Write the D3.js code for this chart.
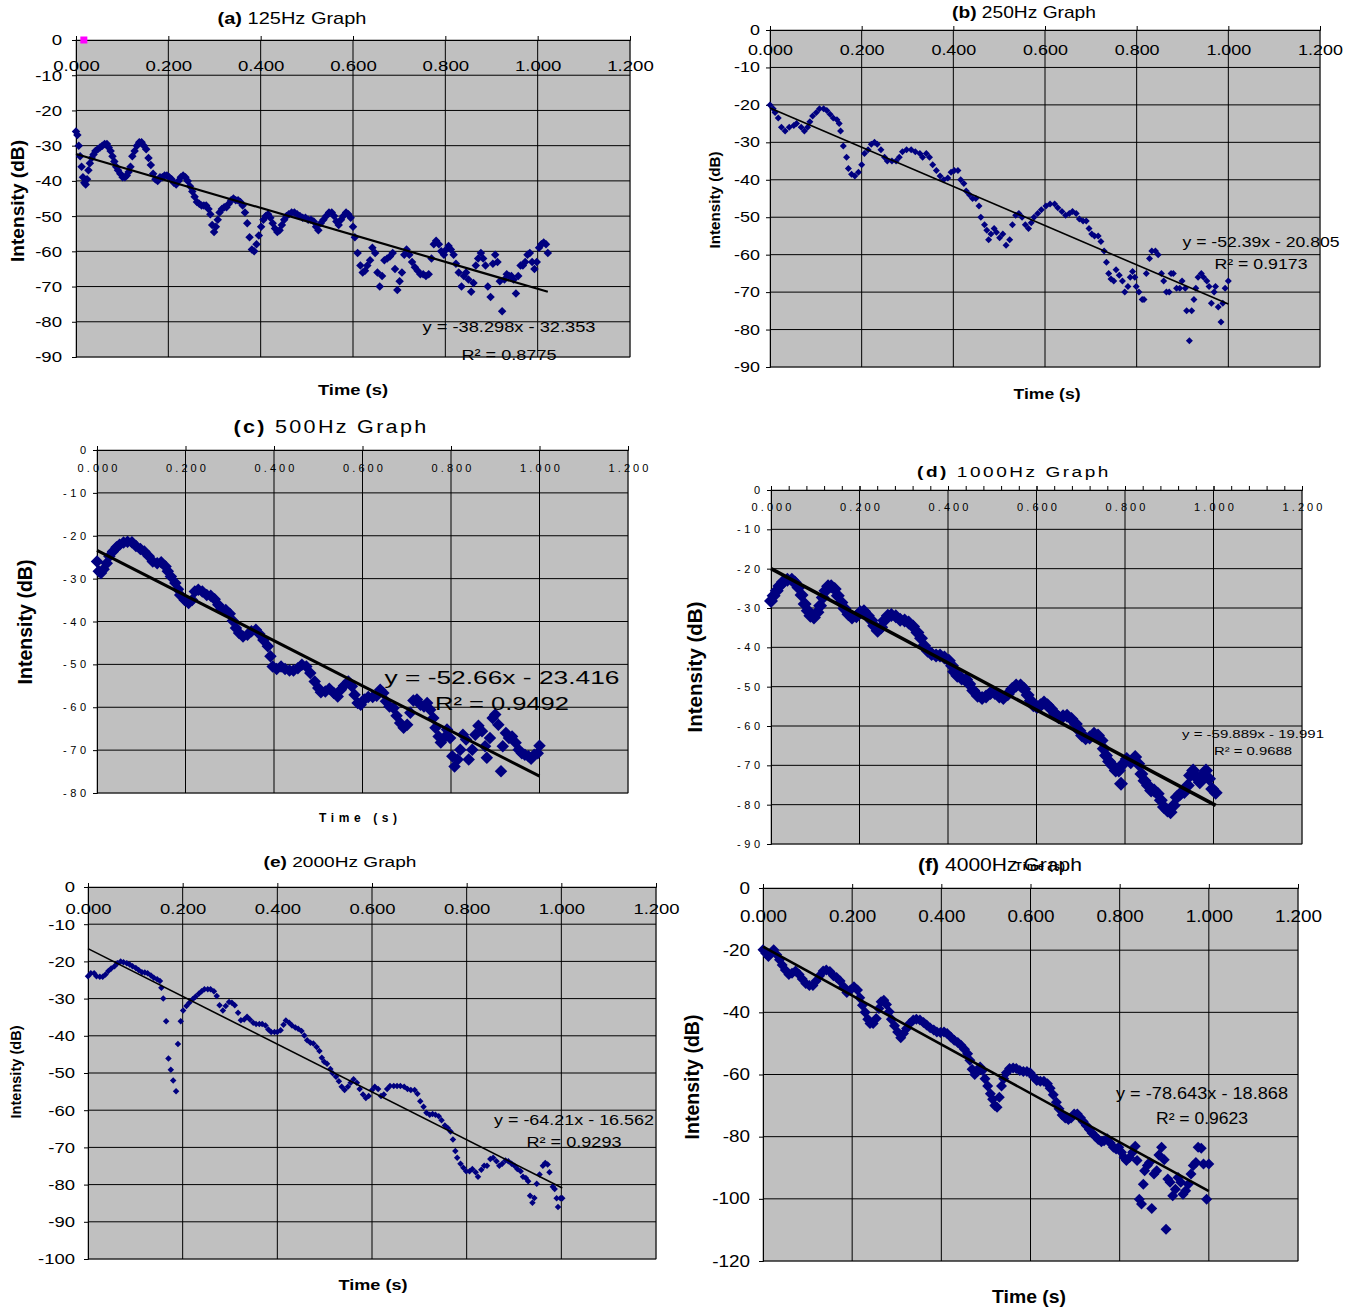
<!DOCTYPE html>
<html>
<head>
<meta charset="utf-8">
<script src="https://cdn.jsdelivr.net/npm/d3@7"></script>
<style>
body{margin:0;background:#fff;}
text{font-family:"Liberation Sans",Arial,sans-serif;fill:#000;}
</style>
</head>
<body>
<svg id="chart" width="1355" height="1311"></svg>
<script>
// readings, [time (s), intensity (dB)]
var hz125 = [[0.000,-26],[0.003,-27],[0.006,-30],[0.009,-33],[0.012,-36],[0.015,-39],[0.018,-40.5],[0.021,-41],[0.024,-39.5],[0.027,-37],[0.030,-35],[0.034,-33.5],[0.038,-32.5],[0.042,-31.5],[0.047,-31],[0.052,-30.5],[0.057,-30],[0.062,-29.5],[0.067,-29.5],[0.071,-30.5],[0.075,-31.5],[0.079,-33],[0.083,-34.5],[0.087,-36],[0.091,-37],[0.096,-38],[0.101,-39],[0.106,-39],[0.110,-38.5],[0.114,-37.5],[0.118,-36],[0.122,-33],[0.127,-31.5],[0.132,-30],[0.137,-29],[0.142,-29],[0.147,-30],[0.152,-31],[0.157,-33.5],[0.162,-35.5],[0.167,-38],[0.172,-39.5],[0.177,-40],[0.182,-39],[0.187,-39],[0.192,-38.5],[0.197,-38.5],[0.202,-39],[0.207,-39.5],[0.212,-40.5],[0.217,-41],[0.222,-40],[0.227,-39],[0.232,-38.5],[0.237,-39],[0.242,-40],[0.247,-41.5],[0.252,-43],[0.257,-44.5],[0.262,-46],[0.267,-46.5],[0.272,-47],[0.277,-47],[0.282,-47],[0.287,-48],[0.291,-49.5],[0.295,-52.5],[0.299,-54.5],[0.303,-53],[0.307,-51],[0.311,-49],[0.316,-48],[0.321,-47.5],[0.326,-47.5],[0.331,-46.5],[0.336,-45.5],[0.341,-45],[0.346,-45.5],[0.351,-45.5],[0.356,-46],[0.361,-47],[0.366,-49],[0.371,-52],[0.376,-56],[0.381,-59.5],[0.386,-60],[0.391,-58],[0.396,-55.5],[0.401,-53],[0.406,-51],[0.411,-50],[0.416,-49.5],[0.421,-50.5],[0.426,-52],[0.431,-53.5],[0.436,-54.5],[0.441,-54],[0.446,-52.5],[0.451,-51],[0.456,-50],[0.461,-49.5],[0.467,-49],[0.473,-49],[0.479,-49.5],[0.485,-50],[0.491,-50.5],[0.497,-50.5],[0.503,-51],[0.509,-51],[0.515,-51.5],[0.520,-53],[0.525,-54],[0.530,-52],[0.536,-51],[0.542,-50],[0.548,-49],[0.554,-49],[0.559,-50],[0.564,-51.5],[0.569,-52.5],[0.574,-51],[0.579,-50],[0.585,-49],[0.590,-49.5],[0.595,-50.5],[0.600,-53],[0.604,-56],[0.610,-60.5],[0.616,-64],[0.621,-66],[0.626,-65.5],[0.631,-64],[0.637,-62.5],[0.642,-59],[0.648,-60.5],[0.653,-66],[0.658,-70],[0.663,-67],[0.668,-62.5],[0.674,-62],[0.680,-61.5],[0.686,-60.5],[0.691,-65],[0.696,-71],[0.701,-68.5],[0.706,-66],[0.711,-61],[0.716,-59.5],[0.722,-61],[0.728,-63],[0.734,-64.5],[0.740,-65.5],[0.746,-66.5],[0.752,-66.5],[0.758,-67],[0.764,-66.5],[0.770,-62],[0.775,-58],[0.780,-57],[0.786,-58],[0.791,-60],[0.797,-61],[0.802,-59.5],[0.807,-58.5],[0.812,-59.5],[0.818,-61],[0.823,-63.5],[0.829,-66],[0.835,-70],[0.840,-67],[0.845,-66],[0.850,-68],[0.856,-71.5],[0.861,-69],[0.866,-64],[0.871,-62],[0.877,-60.5],[0.882,-62],[0.887,-64],[0.892,-70],[0.898,-73],[0.903,-63.5],[0.908,-61],[0.913,-63],[0.918,-68.5],[0.923,-77],[0.928,-68],[0.933,-66.5],[0.938,-67],[0.943,-67],[0.948,-68],[0.953,-72],[0.958,-67],[0.963,-64],[0.968,-64],[0.973,-63],[0.978,-61],[0.983,-60.5],[0.988,-63],[0.993,-65],[0.998,-63],[1.003,-59],[1.008,-58],[1.013,-57.5],[1.018,-58],[1.022,-60.5]];
var hz250 = [[0,-20],[0.007,-21],[0.011,-22],[0.018,-23.5],[0.025,-26],[0.033,-27],[0.042,-26],[0.052,-25.5],[0.058,-25],[0.068,-26],[0.075,-27],[0.082,-26],[0.087,-24.5],[0.093,-23],[0.101,-22],[0.108,-21],[0.117,-21],[0.124,-21.5],[0.131,-22.5],[0.138,-23.5],[0.146,-24],[0.151,-25],[0.154,-27],[0.160,-31],[0.167,-34],[0.171,-37],[0.178,-38.5],[0.185,-39],[0.193,-38],[0.200,-36],[0.206,-33],[0.214,-32],[0.221,-30.5],[0.228,-30],[0.234,-30.5],[0.242,-32],[0.250,-34],[0.256,-35],[0.266,-35],[0.275,-35],[0.282,-34],[0.289,-32.5],[0.298,-32],[0.308,-32],[0.317,-32.5],[0.327,-33],[0.333,-34],[0.341,-33],[0.348,-34],[0.355,-36],[0.363,-37.5],[0.371,-39],[0.379,-40],[0.388,-39.5],[0.395,-38],[0.402,-37.5],[0.410,-37.5],[0.416,-40],[0.423,-41],[0.428,-43],[0.435,-44],[0.442,-45],[0.449,-45],[0.456,-47],[0.460,-50],[0.468,-52],[0.473,-53.5],[0.477,-56],[0.482,-54.5],[0.489,-53],[0.494,-54],[0.501,-55.5],[0.508,-54.5],[0.515,-57.5],[0.523,-56],[0.529,-52],[0.536,-49.5],[0.543,-49],[0.550,-50],[0.557,-52],[0.564,-53],[0.570,-51.5],[0.576,-50],[0.584,-49],[0.592,-48],[0.602,-47],[0.611,-46.5],[0.621,-46.5],[0.628,-47.5],[0.637,-48.5],[0.645,-49.5],[0.653,-49],[0.660,-48.5],[0.668,-49],[0.675,-50.5],[0.683,-51],[0.690,-51],[0.696,-53],[0.702,-54.5],[0.708,-55],[0.716,-55],[0.722,-56.5],[0.729,-59],[0.734,-62],[0.739,-65],[0.744,-66.5],[0.750,-67],[0.755,-64],[0.762,-65.5],[0.769,-67],[0.774,-70],[0.781,-68.5],[0.786,-66],[0.791,-64.5],[0.796,-66],[0.799,-68.5],[0.805,-70],[0.812,-72],[0.816,-72],[0.821,-65],[0.828,-61],[0.833,-59],[0.841,-59],[0.847,-60],[0.854,-65],[0.859,-67],[0.865,-70],[0.871,-70],[0.875,-65],[0.880,-65],[0.887,-69],[0.894,-69],[0.899,-67],[0.906,-69],[0.909,-75],[0.915,-83],[0.920,-75],[0.925,-72],[0.929,-69],[0.934,-66],[0.941,-65],[0.946,-66],[0.953,-67],[0.958,-68.5],[0.963,-73],[0.969,-70],[0.972,-68.5],[0.978,-74],[0.984,-78],[0.988,-73],[0.993,-69],[1.000,-67]];
var hz500 = [[0,-26],[0.004,-28.3],[0.009,-28.7],[0.015,-27.8],[0.022,-26.4],[0.028,-24.8],[0.036,-23.7],[0.044,-22.7],[0.051,-22.1],[0.060,-21.6],[0.069,-21.4],[0.079,-21.5],[0.088,-22.4],[0.098,-23.1],[0.107,-23.7],[0.117,-24.8],[0.126,-26],[0.136,-26.4],[0.145,-26.2],[0.155,-27.2],[0.160,-28.3],[0.167,-29.5],[0.177,-31],[0.183,-32.5],[0.188,-33.8],[0.198,-35],[0.207,-35.7],[0.215,-35],[0.221,-33],[0.229,-32.6],[0.238,-33],[0.248,-33.8],[0.257,-34],[0.266,-34.8],[0.274,-36.1],[0.281,-37.1],[0.291,-37.3],[0.300,-38.2],[0.307,-39.8],[0.314,-41.5],[0.321,-42.7],[0.330,-43.5],[0.340,-43.1],[0.349,-42.3],[0.359,-41.9],[0.367,-42.9],[0.376,-44.3],[0.386,-45.8],[0.392,-48.1],[0.397,-50.5],[0.406,-51.1],[0.416,-50.5],[0.425,-51.1],[0.435,-51.4],[0.444,-51.4],[0.454,-50.9],[0.463,-50.1],[0.473,-50.5],[0.482,-52],[0.492,-54],[0.500,-55.5],[0.506,-56.5],[0.516,-56.3],[0.525,-55.7],[0.535,-56.7],[0.544,-57.5],[0.551,-55.9],[0.558,-55],[0.568,-54],[0.576,-55.1],[0.582,-57.1],[0.589,-59],[0.596,-59.4],[0.604,-58.2],[0.613,-57.6],[0.623,-57.6],[0.632,-57.3],[0.640,-55.9],[0.647,-56.7],[0.653,-58.6],[0.661,-59.8],[0.670,-60.2],[0.677,-62],[0.685,-63.7],[0.693,-64.8],[0.701,-64.1],[0.708,-61.3],[0.715,-58.4],[0.723,-58.2],[0.731,-59.4],[0.739,-59.8],[0.746,-59],[0.753,-60.6],[0.760,-62.5],[0.765,-64.8],[0.772,-66.8],[0.777,-68.2],[0.784,-67.2],[0.791,-65.2],[0.798,-67.2],[0.803,-71.4],[0.808,-73.8],[0.815,-72.2],[0.821,-69.9],[0.827,-66.4],[0.834,-67.5],[0.840,-72.2],[0.848,-69.9],[0.855,-66.4],[0.862,-64.3],[0.870,-65.6],[0.877,-69.1],[0.881,-71.8],[0.888,-67.2],[0.894,-62.5],[0.900,-61.7],[0.907,-64.1],[0.913,-74.9],[0.917,-69.1],[0.924,-66],[0.931,-67.2],[0.938,-66.8],[0.946,-68.3],[0.953,-69.9],[0.960,-70.7],[0.967,-71.1],[0.975,-71.4],[0.981,-72],[0.988,-71.1],[0.996,-70.7],[1.000,-69]];
var hz1000 = [[0,-28.2],[0.006,-26.9],[0.013,-25.6],[0.019,-24.4],[0.027,-23.4],[0.037,-22.8],[0.047,-22.8],[0.054,-23.5],[0.062,-24.8],[0.069,-26.7],[0.076,-29],[0.083,-30.7],[0.089,-32],[0.097,-32.4],[0.105,-31.1],[0.111,-29.4],[0.117,-27.3],[0.123,-25.6],[0.129,-24.5],[0.136,-24.5],[0.144,-25.2],[0.151,-26.9],[0.159,-28.6],[0.166,-30.1],[0.175,-31.6],[0.183,-32.4],[0.193,-32.1],[0.202,-31.1],[0.210,-30.8],[0.219,-32],[0.227,-33.2],[0.233,-34.5],[0.241,-35.8],[0.249,-34.9],[0.256,-33.2],[0.264,-32],[0.272,-31.8],[0.282,-32.1],[0.292,-33],[0.302,-33.2],[0.311,-33.7],[0.321,-34.7],[0.331,-36.2],[0.339,-37.7],[0.346,-39.6],[0.354,-40.9],[0.363,-41.7],[0.373,-42.1],[0.382,-42.1],[0.392,-42.6],[0.402,-43.4],[0.409,-44.7],[0.414,-46.2],[0.421,-47.2],[0.431,-47.9],[0.441,-48.2],[0.448,-49.3],[0.457,-51],[0.467,-52.3],[0.477,-52.9],[0.486,-52.5],[0.496,-51.6],[0.506,-51.6],[0.516,-52.5],[0.525,-52.9],[0.535,-51.9],[0.545,-50.6],[0.554,-49.7],[0.564,-49.7],[0.572,-50.6],[0.580,-52.1],[0.587,-53.6],[0.593,-54.7],[0.601,-55.2],[0.609,-54.7],[0.617,-54],[0.625,-54.7],[0.633,-55.7],[0.642,-56.9],[0.650,-57.8],[0.660,-57.5],[0.669,-57.4],[0.679,-58.2],[0.689,-59.5],[0.697,-61.2],[0.703,-62.4],[0.711,-63.1],[0.720,-62.9],[0.730,-62],[0.739,-62.4],[0.747,-63.7],[0.752,-65.8],[0.757,-67.5],[0.764,-69],[0.771,-70],[0.779,-71.3],[0.786,-71.3],[0.791,-74.7],[0.796,-69.6],[0.804,-68.4],[0.813,-69.2],[0.823,-67.9],[0.830,-69.6],[0.837,-72.2],[0.844,-73.9],[0.852,-75.1],[0.859,-76.4],[0.866,-76.4],[0.874,-77.2],[0.881,-78.9],[0.888,-80.6],[0.896,-81.5],[0.903,-81.9],[0.910,-80.2],[0.917,-78.1],[0.925,-77.2],[0.934,-76.8],[0.942,-75.1],[0.947,-72.6],[0.954,-71.3],[0.961,-73],[0.969,-74.3],[0.977,-72.2],[0.983,-71.3],[0.990,-73.4],[0.997,-76],[1.005,-77]];
var hz2000 = [[0,-24],[0.006,-23.2],[0.013,-23.2],[0.018,-24],[0.025,-24.1],[0.031,-24.1],[0.037,-23.5],[0.043,-22.6],[0.049,-21.9],[0.056,-21.3],[0.062,-20.5],[0.069,-20],[0.075,-20.2],[0.082,-20.5],[0.088,-20.8],[0.094,-21.3],[0.101,-21.8],[0.107,-22.3],[0.114,-22.9],[0.120,-23],[0.126,-23.2],[0.133,-23.8],[0.139,-24.4],[0.146,-24.8],[0.152,-25.3],[0.155,-27.1],[0.159,-30],[0.165,-36.1],[0.170,-46.1],[0.175,-49.1],[0.180,-52],[0.186,-54.9],[0.190,-42.2],[0.196,-36.1],[0.201,-33.2],[0.208,-32],[0.214,-31.1],[0.221,-30.2],[0.227,-29.5],[0.234,-28.7],[0.240,-28],[0.246,-27.5],[0.253,-27.5],[0.259,-27.5],[0.266,-28],[0.272,-29.3],[0.278,-31.8],[0.285,-33.2],[0.291,-32],[0.298,-30.9],[0.304,-31.1],[0.310,-31.8],[0.317,-33.8],[0.323,-35.8],[0.330,-35.6],[0.336,-34.9],[0.342,-35.6],[0.349,-36.5],[0.355,-36.8],[0.362,-36.8],[0.368,-36.8],[0.375,-37.2],[0.381,-38.3],[0.387,-39],[0.394,-39],[0.400,-39],[0.407,-38.5],[0.413,-37],[0.418,-35.9],[0.425,-36.5],[0.431,-37.2],[0.438,-37.8],[0.444,-38.1],[0.451,-38.7],[0.457,-39.9],[0.463,-41.2],[0.470,-41.9],[0.476,-42.1],[0.483,-43],[0.489,-44.1],[0.494,-45.9],[0.499,-47],[0.505,-47.5],[0.512,-48.9],[0.517,-50.1],[0.524,-51],[0.530,-52.2],[0.536,-53.7],[0.542,-54.6],[0.549,-53.7],[0.555,-52.6],[0.561,-51.7],[0.568,-52.6],[0.574,-54.3],[0.581,-55.8],[0.587,-56.7],[0.593,-56.2],[0.600,-54.6],[0.606,-53.7],[0.613,-54.3],[0.619,-56.2],[0.625,-55.8],[0.632,-54.3],[0.638,-53.5],[0.646,-53.5],[0.653,-53.5],[0.660,-53.5],[0.668,-53.7],[0.675,-54.3],[0.682,-54.6],[0.690,-54.6],[0.696,-55.6],[0.702,-57.6],[0.709,-59.1],[0.715,-60.7],[0.722,-61.2],[0.728,-61],[0.734,-61.2],[0.741,-61.6],[0.747,-62.7],[0.754,-64.1],[0.760,-64.8],[0.766,-65.7],[0.771,-67.9],[0.776,-71],[0.780,-72.8],[0.787,-74.4],[0.793,-75.5],[0.799,-76.4],[0.806,-76.4],[0.812,-75.8],[0.819,-76.7],[0.824,-77.9],[0.831,-76],[0.837,-74.9],[0.843,-74.9],[0.850,-73.1],[0.856,-72.8],[0.863,-73.7],[0.869,-74.9],[0.875,-74.4],[0.882,-73.5],[0.888,-73.7],[0.895,-74.4],[0.901,-74.9],[0.907,-75.8],[0.914,-76.4],[0.919,-77.9],[0.925,-78.2],[0.930,-79.1],[0.934,-83],[0.939,-84.9],[0.943,-83.6],[0.948,-79.8],[0.954,-77.3],[0.961,-74.9],[0.966,-74.2],[0.971,-74.6],[0.975,-76.7],[0.982,-80.6],[0.986,-81.2],[0.990,-83.7],[0.993,-86],[0.998,-83.7],[1.002,-83.7]];
var hz4000 = [[0,-19.9],[0.006,-21],[0.012,-22],[0.017,-21],[0.024,-19.9],[0.031,-21.5],[0.037,-23.1],[0.043,-24.8],[0.050,-26.4],[0.058,-27.8],[0.065,-27.4],[0.073,-26.7],[0.081,-27.8],[0.088,-29.3],[0.096,-30.7],[0.104,-31.4],[0.112,-31.4],[0.119,-29.9],[0.127,-28.2],[0.135,-26.7],[0.142,-26.4],[0.150,-26.9],[0.158,-28.2],[0.165,-28.8],[0.173,-29.9],[0.181,-31.8],[0.188,-33.6],[0.196,-32.8],[0.204,-31.8],[0.212,-32.8],[0.217,-35.3],[0.223,-37.7],[0.229,-40],[0.235,-42.2],[0.240,-43.6],[0.247,-43.6],[0.254,-42],[0.260,-38.8],[0.265,-36.6],[0.271,-36.1],[0.277,-37.5],[0.283,-39.8],[0.288,-42.2],[0.295,-44.3],[0.302,-46.3],[0.309,-48.2],[0.315,-46.8],[0.322,-45.2],[0.329,-43.6],[0.337,-42.5],[0.344,-42.2],[0.352,-42.5],[0.360,-43.3],[0.367,-44.1],[0.375,-45],[0.383,-45.7],[0.390,-46.3],[0.398,-46.5],[0.406,-46.3],[0.413,-46.8],[0.421,-47.9],[0.429,-49],[0.437,-49.7],[0.444,-50.6],[0.452,-51.9],[0.459,-53.3],[0.464,-55.4],[0.469,-58.3],[0.475,-60],[0.481,-59],[0.487,-57.6],[0.492,-58.7],[0.498,-61.4],[0.504,-63.7],[0.510,-66.2],[0.515,-68],[0.520,-70],[0.525,-70.5],[0.530,-67.3],[0.535,-63.7],[0.540,-61.4],[0.546,-59.4],[0.553,-58.1],[0.561,-57.9],[0.568,-58.1],[0.576,-58.7],[0.584,-59],[0.592,-59],[0.599,-59.4],[0.607,-60.8],[0.614,-61.9],[0.622,-62.2],[0.630,-62.2],[0.638,-63],[0.644,-64.4],[0.651,-66.5],[0.658,-68.9],[0.664,-71],[0.671,-73],[0.678,-74],[0.685,-74.5],[0.691,-74],[0.698,-72.7],[0.705,-72.7],[0.712,-73.9],[0.718,-75.1],[0.725,-76.4],[0.732,-77.7],[0.738,-78.8],[0.745,-79.9],[0.752,-80.9],[0.759,-81.6],[0.765,-81.3],[0.772,-80.7],[0.779,-82],[0.786,-83.4],[0.792,-84],[0.798,-83.4],[0.804,-85],[0.810,-86.7],[0.815,-87.7],[0.822,-86.7],[0.829,-85],[0.835,-83.1],[0.839,-87.7],[0.844,-100.1],[0.849,-101.7],[0.853,-95.3],[0.856,-91],[0.862,-89.3],[0.867,-88.3],[0.872,-103.1],[0.877,-92],[0.883,-91],[0.888,-85.9],[0.894,-83.4],[0.900,-87.4],[0.904,-109.8],[0.908,-93.6],[0.913,-94.7],[0.919,-99],[0.925,-96.9],[0.931,-93.1],[0.937,-94.7],[0.942,-98.5],[0.948,-97.4],[0.954,-95.3],[0.960,-92],[0.965,-89.3],[0.971,-88.3],[0.976,-83.4],[0.983,-83.7],[0.988,-88.8],[0.995,-100.1],[1.000,-88.8]];
var stray125 = [[0.017, 0]]; // the pink point on the 125Hz graph

var letters = ['(a)', '(b)', '(c)', '(d)', '(e)', '(f)'];
var freqs = ['125Hz', '250Hz', '500Hz', '1000Hz', '2000Hz', '4000Hz'];
var slopes = [-38.298, -52.39, -52.66, -59.889, -64.21, -78.643];
var intercepts = [-32.353, -20.805, -23.416, -19.991, -16.562, -18.868];
var rSquared = ['0.8775', '0.9173', '0.9492', '0.9688', '0.9293', '0.9623'];
var yMins = [-90, -90, -80, -90, -100, -120];
var ySteps = [10, 10, 10, 10, 10, 20];
var xTicks = [0, 0.2, 0.4, 0.6, 0.8, 1.0, 1.2];

var allData = [hz125, hz250, hz500, hz1000, hz2000, hz4000];

// where each graph sits on the page (box = left, top, right, bottom)
var layout = [
  {box:[76,40,630,357], fs:15.5, k:1.2, adj:'spacingAndGlyphs', xOff:26, yGap:14, ms:8.5, lw:2.2, ls:0,
   title:[292,18,17,149], yT:[17,201,19,122], xT:[353,390,15,70], eq:[509,327,355,15.5,173,95]},
  {box:[770,30,1320,367], fs:14, k:1.28, adj:'spacingAndGlyphs', xOff:20, yGap:10, ms:7, lw:1.6, ls:0,
   title:[1024,12,16,144], yT:[715,200,15,97], xT:[1047,394,15,67], eq:[1261,242,264,14,157,93]},
  {box:[97,450,628,793], fs:11, k:1.45, adj:'spacing', xOff:18, yGap:11, ms:12.5, lw:3, ls:2,
   title:[331,426,19,195], yT:[25,622,20,125], xT:[358,818,12,78], eq:[502,677.5,703,19,235,134]},
  {box:[771,490,1302,844], fs:11, k:1.45, adj:'spacing', xOff:17, yGap:11, ms:14, lw:3.5, ls:2, minor:true,
   title:[1014,472,15,194], yT:[695,667,21,131], xT:[1040,866,11,50], eq:[1253,734,751,11.5,142,78]},
  {box:[88,887,656,1259], fs:15, k:1.23, adj:'spacingAndGlyphs', xOff:22, yGap:13, ms:6.5, lw:1.6, ls:0,
   title:[340,862,15,153], yT:[16,1072,15,93], xT:[373,1285,15,69], eq:[574,1120,1142,15,160,95]},
  {box:[763,888,1298,1261], fs:16, k:1.18, adj:'spacingAndGlyphs', xOff:28, yGap:13, ms:11, lw:2.6, ls:0,
   title:[1000,865,18,164], yT:[692,1077,19.5,125], xT:[1029,1297,18,74], eq:[1202,1093,1118,16.5,172,92]}
];

var svg = d3.select('#chart');

function stretch(sel, k, adj) {
  sel.each(function () {
    var w = this.getComputedTextLength();
    d3.select(this).attr('textLength', w * k).attr('lengthAdjust', adj);
  });
}

layout.forEach(function (L, i) {
  var b = L.box;
  var x = d3.scaleLinear().domain([0, 1.2]).range([b[0], b[2]]);
  var y = d3.scaleLinear().domain([yMins[i], 0]).range([b[3], b[1]]);
  var yTicks = d3.range(0, yMins[i] - 1, -ySteps[i]);
  var g = svg.append('g');

  g.append('rect')
    .attr('x', b[0]).attr('y', b[1])
    .attr('width', b[2] - b[0]).attr('height', b[3] - b[1])
    .attr('fill', '#c0c0c0').attr('stroke', '#808080');

  // gridlines
  g.selectAll('.hg').data(yTicks.slice(1)).enter().append('line')
    .attr('x1', b[0]).attr('x2', b[2])
    .attr('y1', function (d) { return y(d); }).attr('y2', function (d) { return y(d); })
    .attr('stroke', '#000').attr('stroke-width', 1);
  g.selectAll('.vg').data(xTicks.slice(1)).enter().append('line')
    .attr('x1', function (d) { return x(d); }).attr('x2', function (d) { return x(d); })
    .attr('y1', b[1]).attr('y2', b[3])
    .attr('stroke', '#000').attr('stroke-width', 1);

  // y axis
  var ya = g.append('g').attr('transform', 'translate(' + b[0] + ',0)')
    .call(d3.axisLeft(y).tickValues(yTicks).tickSize(4).tickPadding(L.yGap - 4)
      .tickFormat(function (d) { return String(d); }));
  ya.selectAll('text').style('font-size', L.fs + 'px').style('font-family', '"Liberation Sans",Arial,sans-serif').attr('fill', '#000');
  stretch(ya.selectAll('text'), L.k, L.adj);

  // x axis sits on the 0 dB line, labels just under it
  var xa = g.append('g').attr('transform', 'translate(0,' + y(0) + ')')
    .call(d3.axisTop(x).tickValues(xTicks).tickSize(4).tickFormat(d3.format('.3f')));
  xa.selectAll('text').attr('y', L.xOff).attr('dy', '0.35em')
    .style('font-size', L.fs + 'px').style('font-family', '"Liberation Sans",Arial,sans-serif').attr('fill', '#000');
  stretch(xa.selectAll('text'), L.k, L.adj);
  if (L.minor) {
    g.append('g').attr('transform', 'translate(0,' + y(0) + ')')
      .call(d3.axisTop(x).tickValues(d3.range(0, 1.2001, 0.04)).tickSize(4).tickFormat(''))
      .select('.domain').remove();
  }
  g.selectAll('.domain, .tick line').attr('stroke', '#000');

  // points
  var sym = d3.symbol().type(d3.symbolSquare).size(L.ms * L.ms / 2);
  g.selectAll('.pt').data(allData[i]).enter().append('path')
    .attr('d', sym)
    .attr('transform', function (d) { return 'translate(' + x(d[0]) + ',' + y(d[1]) + ') rotate(45)'; })
    .attr('fill', '#000080');

  if (i === 0) {
    g.selectAll('.pk').data(stray125).enter().append('rect')
      .attr('x', function (d) { return x(d[0]) - 3.5; })
      .attr('y', function (d) { return y(d[1]) - 3.5; })
      .attr('width', 7).attr('height', 7).attr('fill', '#ff00ff');
  }

  // linear trendline
  var tEnd = d3.max(allData[i], function (d) { return d[0]; });
  g.append('line')
    .attr('x1', x(0)).attr('y1', y(intercepts[i]))
    .attr('x2', x(tEnd)).attr('y2', y(slopes[i] * tEnd + intercepts[i]))
    .attr('stroke', '#000').attr('stroke-width', L.lw);

  // title
  var tt = g.append('text').attr('text-anchor', 'middle').attr('dy', '0.35em')
    .style('font-size', L.title[2] + 'px').style('letter-spacing', L.ls + 'px');
  tt.append('tspan').style('font-weight', 'bold').text(letters[i]);
  tt.append('tspan').text((L.ls ? '  ' : ' ') + freqs[i] + ' Graph');
  var tw = tt.node().getComputedTextLength();
  tt.attr('transform', 'translate(' + L.title[0] + ',' + L.title[1] + ') scale(' + (L.title[3] / tw) + ',1)');

  // axis titles
  g.append('text').attr('text-anchor', 'middle').attr('dy', '0.35em')
    .attr('transform', 'translate(' + L.yT[0] + ',' + L.yT[1] + ') rotate(-90)')
    .style('font-size', L.yT[2] + 'px').style('font-weight', 'bold')
    .attr('textLength', L.yT[3]).attr('lengthAdjust', 'spacingAndGlyphs')
    .text('Intensity (dB)');
  g.append('text').attr('text-anchor', 'middle').attr('dy', '0.35em')
    .attr('x', L.xT[0]).attr('y', L.xT[1])
    .style('font-size', L.xT[2] + 'px').style('font-weight', 'bold')
    .attr('textLength', L.xT[3]).attr('lengthAdjust', L.ls ? 'spacing' : 'spacingAndGlyphs')
    .text('Time (s)');

  // trendline equation
  var e = L.eq;
  g.append('text').attr('text-anchor', 'middle').attr('dy', '0.35em')
    .attr('x', e[0]).attr('y', e[1]).style('font-size', e[3] + 'px')
    .attr('textLength', e[4]).attr('lengthAdjust', 'spacingAndGlyphs')
    .text('y = ' + slopes[i] + 'x - ' + Math.abs(intercepts[i]));
  g.append('text').attr('text-anchor', 'middle').attr('dy', '0.35em')
    .attr('x', e[0]).attr('y', e[2]).style('font-size', e[3] + 'px')
    .attr('textLength', e[5]).attr('lengthAdjust', 'spacingAndGlyphs')
    .text('R\u00b2 = ' + rSquared[i]);
});
</script>
</body>
</html>
